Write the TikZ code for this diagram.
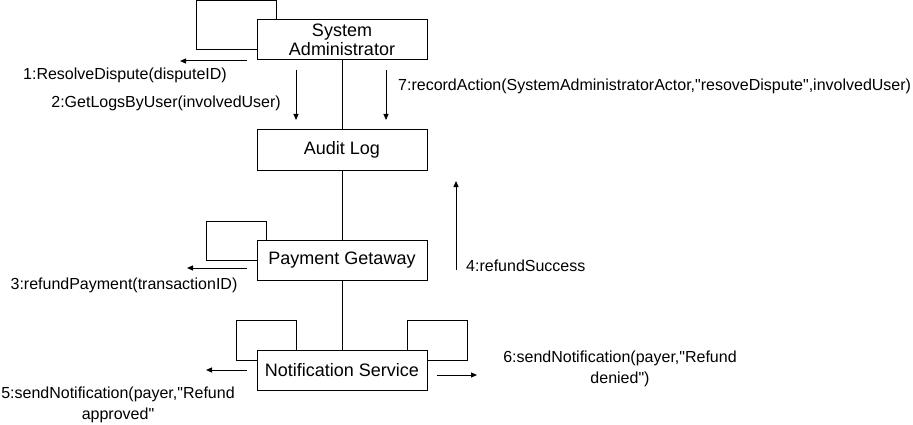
\documentclass[tikz,border=0pt]{standalone}
\usepackage{fontspec}
\setmainfont{Liberation Sans}[Ligatures=TeXOff]
\usetikzlibrary{arrows.meta,positioning}

\begin{document}
\begin{tikzpicture}[
  x=1pt,y=-1pt,
  obj/.style={rectangle,draw=black,line width=1pt,minimum width=170pt,
              minimum height=40pt,inner sep=2pt,align=center,
              font=\fontsize{18}{19.5}\selectfont},
  link/.style={line width=1pt},
  selfloop/.style={line width=1pt},
  msg/.style={-{Triangle[length=6pt,width=5pt]},line width=1pt},
  msglbl/.style={font=\fontsize{16}{21.5}\selectfont,align=center,inner sep=0pt}
]
\useasboundingbox (0,0) rectangle (913,425);

% objects
\node[obj] (admin) at (342,40) {System\\Administrator};
\node[obj] (audit) at (342,150) {Audit Log};
\node[obj] (pay) at (342,260) {Payment Getaway};
\node[obj] (notif) at (342,370) {Notification Service};

% links
\draw[link] (admin) -- (audit);
\draw[link] (audit) -- (pay);
\draw[link] (pay) -- (notif);

% self links
\draw[selfloop] ([yshift=-10pt]admin.west) -- ++(-60,0) -- ++(0,-49) -- ++(80,0) -- ([xshift=20pt]admin.north west);
\draw[selfloop] (pay.west) -- ++(-50,0) -- ++(0,-39) -- ++(60,0) -- ([xshift=10pt]pay.north west);
\draw[selfloop] ([yshift=10pt]notif.west) -- ++(-20,0) -- ++(0,-40) -- ++(60,0) -- ([xshift=40pt]notif.north west);
\draw[selfloop] ([yshift=10pt]notif.east) -- ++(40,0) -- ++(0,-40) -- ++(-60,0) -- ([xshift=-20pt]notif.north east);

% message ends
\coordinate (m1a) at (247,61);  \coordinate (m1b) at (180,61);
\coordinate (m2a) at (296,70);  \coordinate (m2b) at (296,120);
\coordinate (m7a) at (386,70);  \coordinate (m7b) at (386,120);
\coordinate (m3a) at (247,268); \coordinate (m3b) at (187,268);
\coordinate (m4a) at (456,270); \coordinate (m4b) at (456,181);
\coordinate (m5a) at (247,370); \coordinate (m5b) at (206,370);
\coordinate (m6a) at (437,375); \coordinate (m6b) at (477,375);

% messages
\draw[msg] (m1a) -- (m1b);
\draw[msg] (m2a) -- (m2b);
\draw[msg] (m7a) -- (m7b);
\draw[msg] (m3a) -- (m3b);
\draw[msg] (m4a) -- (m4b);
\draw[msg] (m5a) -- (m5b);
\draw[msg] (m6a) -- (m6b);

% message labels
\node[msglbl] (l1) at (125,75) {1:ResolveDispute(disputeID)};
\node[msglbl,anchor=east] (l2) at (281,103) {2:GetLogsByUser(involvedUser)};
\node[msglbl,anchor=west] (l7) at (398,86) {7:recordAction(SystemAdministratorActor,"resoveDispute",involvedUser)};
\node[msglbl] (l3) at (124,285) {3:refundPayment(transactionID)};
\node[msglbl,anchor=west] (l4) at (466,266) {4:refundSuccess};
\node[msglbl] (l5) at (118,405) {5:sendNotification(payer,"Refund\\approved"};
\node[msglbl] (l6) at (620,369) {6:sendNotification(payer,"Refund\\denied")};

\end{tikzpicture}
\end{document}
